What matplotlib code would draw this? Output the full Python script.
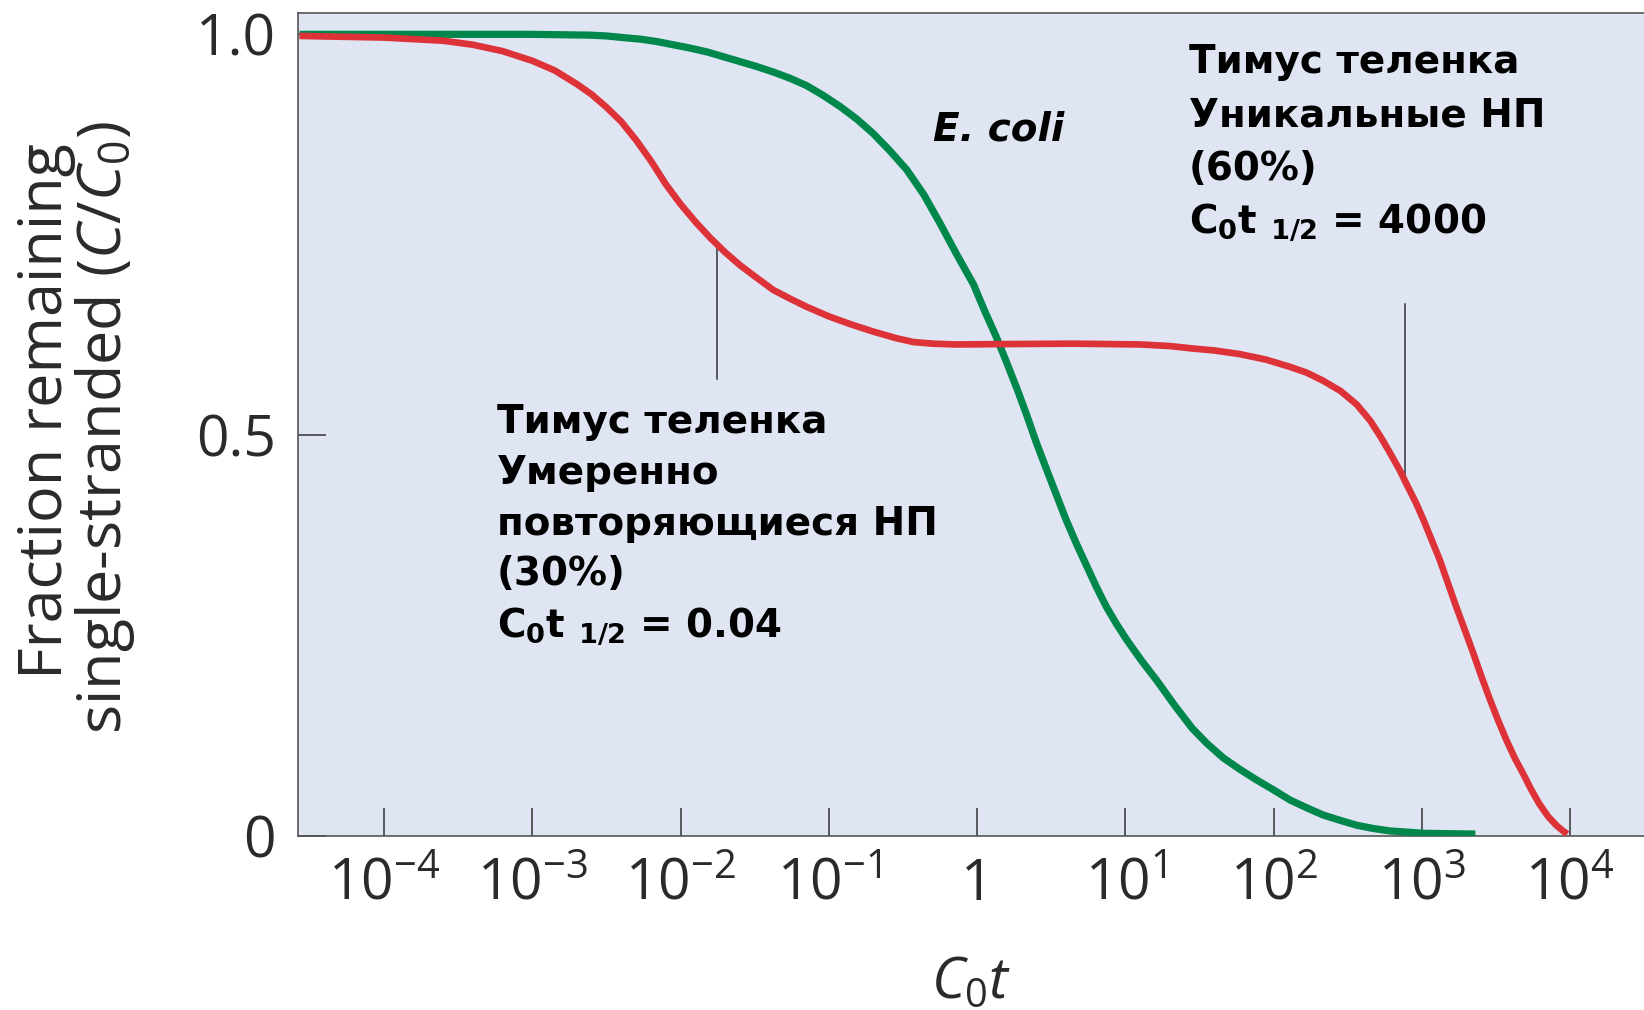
import matplotlib
matplotlib.use('Agg')
import matplotlib.pyplot as plt
import numpy as np

# log10(C0t) and fraction remaining single-stranded
red_logc = [-4.57, -4.0, -3.6, -3.4, -3.2, -3.0, -2.85, -2.7, -2.6, -2.5,
            -2.4, -2.3, -2.2, -2.1, -2.0, -1.9, -1.8, -1.7, -1.6, -1.5,
            -1.375, -1.25, -1.15, -1.0, -0.85, -0.70, -0.55, -0.43, -0.30, -0.14,
            0.20, 0.65, 1.10, 1.30, 1.45, 1.60, 1.77, 1.95, 2.11, 2.22,
            2.33, 2.45, 2.56, 2.65, 2.72, 2.78, 2.85, 2.90, 2.96, 3.01,
            3.065, 3.12, 3.175, 3.23, 3.29, 3.345, 3.40, 3.46, 3.515, 3.57,
            3.625, 3.68, 3.735, 3.79, 3.85, 3.905, 3.95, 3.98]
red_frac = [0.998, 0.996, 0.992, 0.987, 0.979, 0.967, 0.955, 0.938, 0.925, 0.909,
            0.891, 0.868, 0.842, 0.813, 0.788, 0.766, 0.746, 0.728, 0.712, 0.698,
            0.681, 0.669, 0.660, 0.648, 0.638, 0.629, 0.621, 0.616, 0.614, 0.613,
            0.6135, 0.614, 0.613, 0.611, 0.608, 0.6055, 0.601, 0.594, 0.585, 0.578,
            0.568, 0.555, 0.538, 0.518, 0.498, 0.479, 0.456, 0.437, 0.415, 0.394,
            0.369, 0.344, 0.315, 0.286, 0.256, 0.228, 0.199, 0.169, 0.143, 0.119,
            0.097, 0.078, 0.058, 0.040, 0.024, 0.013, 0.006, 0.002]

green_logc = [-4.57, -3.0, -2.61, -2.5, -2.39, -2.27, -2.16, -2.05, -1.94, -1.82,
              -1.71, -1.6, -1.49, -1.375, -1.26, -1.15, -1.04, -0.925, -0.81, -0.70,
              -0.59, -0.475, -0.36, -0.25, -0.14, -0.025, 0.05, 0.13, 0.20, 0.27,
              0.33, 0.40, 0.47, 0.535, 0.60, 0.67, 0.74, 0.805, 0.87, 0.94,
              1.01, 1.11, 1.21, 1.33, 1.45, 1.55, 1.66, 1.77, 1.885, 2.0,
              2.11, 2.22, 2.33, 2.45, 2.56, 2.67, 2.78, 3.01, 3.36]
green_frac = [1.0, 1.0, 0.999, 0.998, 0.996, 0.994, 0.991, 0.987, 0.983, 0.978,
              0.972, 0.966, 0.960, 0.953, 0.945, 0.936, 0.924, 0.910, 0.894, 0.876,
              0.855, 0.831, 0.800, 0.764, 0.726, 0.688, 0.655, 0.622, 0.590, 0.557,
              0.527, 0.490, 0.456, 0.425, 0.394, 0.364, 0.336, 0.310, 0.286, 0.264,
              0.244, 0.218, 0.194, 0.163, 0.134, 0.115, 0.097, 0.083, 0.0695, 0.057,
              0.0445, 0.035, 0.026, 0.019, 0.013, 0.009, 0.006, 0.003, 0.002]

x_decades = [-4, -3, -2, -1, 0, 1, 2, 3, 4]
x_ticklabels = [r'$10^{-4}$', r'$10^{-3}$', r'$10^{-2}$', r'$10^{-1}$', '1',
                r'$10^{1}$', r'$10^{2}$', r'$10^{3}$', r'$10^{4}$']
y_ticks = [0, 0.5, 1.0]
y_ticklabels = ['0', '0.5', '1.0']

ylabel_lines = ['Fraction remaining', 'single-stranded ($C$/$C_0$)']
repeat_lines = ['Тимус теленка', 'Умеренно', 'повторяющиеся НП', '(30%)',
                r'C$_\mathbf{0}$t $_\mathbf{1/2}$ = 0.04']
unique_lines = ['Тимус теленка', 'Уникальные НП', '(60%)',
                r'C$_\mathbf{0}$t $_\mathbf{1/2}$ = 4000']

plt.rcParams['font.family'] = ['Open Sans', 'DejaVu Sans']
plt.rcParams['mathtext.fontset'] = 'custom'
plt.rcParams['mathtext.rm'] = 'Open Sans'
plt.rcParams['mathtext.it'] = 'Open Sans:italic'
plt.rcParams['mathtext.bf'] = 'DejaVu Sans:bold'

RED = '#dc3238'
GREEN = '#00874b'
BG = '#dfe5f2'
INK = '#333333'
LABEL = '#2a2a2a'

fig = plt.figure(figsize=(16.44, 10.10), dpi=100)
ax = fig.add_axes([0.1813, 0.1726, 0.8187, 0.8145])
ax.set_facecolor(BG)

ax.plot(10 ** np.array(green_logc), green_frac, color=GREEN, lw=5.2,
        solid_capstyle='butt', solid_joinstyle='round', zorder=3)
ax.plot(10 ** np.array(red_logc), red_frac, color=RED, lw=4.8,
        solid_capstyle='butt', solid_joinstyle='round', zorder=3)

ax.set_xscale('log')
ax.set_xlim(10 ** -4.58, 10 ** 4.497)
ax.set_ylim(0, 1.0266)
ax.set_xticks([10.0 ** d for d in x_decades])
ax.set_xticklabels(x_ticklabels)
ax.xaxis.set_minor_locator(matplotlib.ticker.NullLocator())
ax.set_yticks(y_ticks)
ax.set_yticklabels(y_ticklabels)

for s in ['left', 'top', 'bottom']:
    ax.spines[s].set_color('#555555')
    ax.spines[s].set_linewidth(1.2)
ax.spines['right'].set_visible(False)

ax.tick_params(axis='both', direction='in', length=20, width=1.1, color=INK,
               labelsize=41, labelcolor=LABEL)
ax.tick_params(axis='x', pad=15)
ax.tick_params(axis='y', pad=16)

ax.set_xlabel(r'$C_0t$', fontsize=41, color=LABEL, labelpad=30)

# two-line y label, each line placed on its own
for line, xpix, ypix in zip(ylabel_lines, [46, 105], [411, 427]):
    fig.text(xpix / 1644, 1 - ypix / 1010, line, rotation=90, fontsize=44,
             color=LABEL, ha='center', va='center')

# pointer lines from the curve to the labels
ax.plot([10 ** -1.753, 10 ** -1.753], [0.733, 0.570], color=INK, lw=1.1, zorder=2)
ax.plot([10 ** 2.885, 10 ** 2.885], [0.6635, 0.448], color=INK, lw=1.1, zorder=2)

txt = dict(fontsize=28, fontweight='bold', family='DejaVu Sans', color='black',
           va='baseline', ha='left')
for i, line in enumerate(repeat_lines):
    ax.text(10 ** -3.24, 0.5024 - i * 0.0634, line, **txt)
for i, line in enumerate(unique_lines):
    ax.text(10 ** 1.428, 0.9517 - i * 0.0665, line, **txt)
ax.text(10 ** -0.298, 0.868, 'E. coli', fontsize=28, fontweight='bold',
        style='italic', family='DejaVu Sans', va='baseline', ha='left')

fig.savefig('out.png', dpi=100)
